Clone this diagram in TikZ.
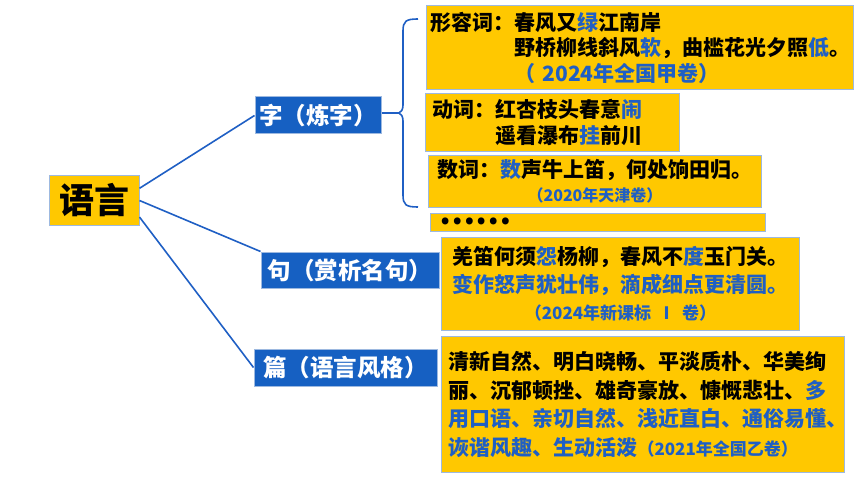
\documentclass[tikz,border=0pt]{standalone}
\usepackage{fontspec}
\setmainfont{Noto Sans CJK SC}[BoldFont={* Black}]
\definecolor{gold}{HTML}{FFC800}
\definecolor{deepblue}{HTML}{1660C2}
\definecolor{hiblue}{HTML}{1F5FC4}
\definecolor{edgeblue}{HTML}{9DB9E0}
\tikzstyle{ybox}=[fill=gold, draw=edgeblue, line width=1pt, anchor=north west, inner ysep=0pt, font=\bfseries\fontsize{21}{25.5}\selectfont]
\tikzstyle{bbox}=[fill=deepblue, draw=edgeblue, line width=1pt, text=white, inner sep=0pt, font=\bfseries\fontsize{23.5}{28}\selectfont]
\tikzstyle{link}=[draw=hiblue, line width=1.6pt]
\newcommand{\hl}[1]{\textcolor{hiblue}{#1}}
\newcommand{\src}[2]{{\fontsize{#1}{18}\selectfont\textcolor{hiblue}{#2}}}

\begin{document}
\begin{tikzpicture}[x=1pt, y=-1pt]
\useasboundingbox (0,0) rectangle (860,484);
% Root and branches
    \node[ybox, anchor=center, inner sep=0pt, minimum width=90, minimum height=49, font=\bfseries\fontsize{35}{40}\selectfont] (lang) at (94,200.5) {语言};
    \node[bbox, minimum width=126, minimum height=37] (zi) at (318,115.5) {字（炼字）};
    \node[bbox, minimum width=178, minimum height=36] (ju) at (350,270) {句（赏析名句）};
    \node[bbox, minimum width=183, minimum height=37] (pian) at (345.5,367.5) {篇（语言风格）};
% Examples
    \node[ybox, minimum height=84, text width=419, inner xsep=4, align=left] (xing) at (426,5)
        {形容词：春风又\hl{绿}江南岸\\\hspace*{4em}野桥柳线斜风\hl{软}，曲槛花光夕照\hl{低}。\\\hspace*{4em}\hl{（ 2024年全国甲卷）}};
    \node[ybox, minimum height=58, text width=240, inner xsep=7, align=left] (dong) at (425,93)
        {动词：红杏枝头春意\hl{闹}\\\hspace*{3em}遥看瀑布\hl{挂}前川};
    \node[ybox, minimum height=52, text width=325, inner xsep=4, align=center, font=\bfseries\fontsize{21}{24}\selectfont] (shu) at (428,155)
        {数词：\hl{数}声牛上笛，何处饷田归。\\\src{16}{（2020年天津卷）}};
    \node[ybox, minimum height=18, text width=317, inner xsep=9, align=left, font=\bfseries\fontsize{32}{18}\selectfont] (more) at (430,213)
        {\raisebox{-2pt}[0pt][0pt]{……}};
    \node[ybox, minimum height=93, text width=350, inner xsep=4, align=center, font=\bfseries\fontsize{21}{27.5}\selectfont] (qiang) at (441,237)
        {羌笛何须\hl{怨}杨柳，春风不\hl{度}玉门关。\\\hl{变作怒声犹壮伟，滴成细点更清圆。}\\\src{17}{（2024年新课标 Ⅰ 卷）}};
    \node[ybox, minimum height=136, text width=389, inner xsep=7, align=left, font=\bfseries\fontsize{21}{28.5}\selectfont] (feng) at (441,336)
        {清新自然、明白晓畅、平淡质朴、华美绚\\丽、沉郁顿挫、雄奇豪放、慷慨悲壮、\hl{多}\\\hl{用口语、亲切自然、浅近直白、通俗易懂、}\\\hl{诙谐风趣、生动活泼}\src{17}{（2021年全国乙卷）}};
% Links
    \draw[link] (lang.15) -- (zi.west);
    \draw[link] (lang.east) -- (ju.north west);
    \draw[link] (lang.-20) -- (pian.west);
% Brace
    \coordinate (tip) at (399,113);
    \coordinate (btop) at (418,19);
    \coordinate (bbot) at (418,207);
    \draw[link] (zi.east |- tip) -- (tip);
    \draw[link] (btop) .. controls (406,19) and (403,21) .. (403,31) -- (403,105)
        .. controls (403,110) and (401,112) .. (tip) .. controls (401,114) and (403,116) .. (403,121)
        -- (403,195) .. controls (403,205) and (406,207) .. (bbot);
\end{tikzpicture}
\end{document}
